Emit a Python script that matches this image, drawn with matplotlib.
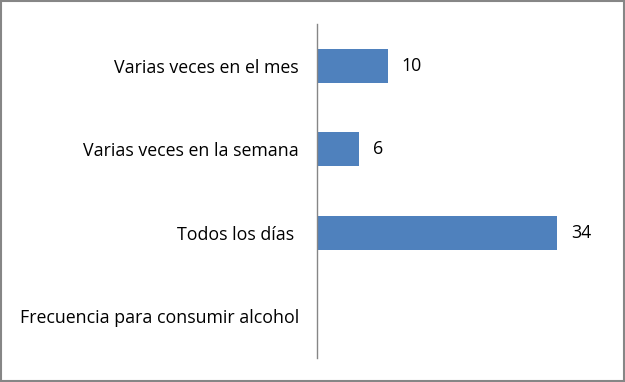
import matplotlib.pyplot as plt
from matplotlib.patches import Rectangle

categories = ["Frecuencia para consumir alcohol", "Todos los días ",
              "Varias veces en la semana", "Varias veces en el mes"]
values = [None, 34, 6, 10]

plt.rcParams['font.family'] = ['Open Sans', 'DejaVu Sans']

fig = plt.figure(figsize=(6.25, 3.82), dpi=100)
ax = fig.add_axes([0.5072, 0.0628, 0.4515, 0.8742])

pos = list(range(len(categories)))
bar_vals = [v if v is not None else 0 for v in values]
bars = ax.barh(pos, bar_vals, height=0.41, color='#4F81BD')

for b, v in zip(bars, values):
    if v is None:
        continue
    ax.text(b.get_width() + 2.0, b.get_y() + b.get_height() / 2, str(v),
            va='center', ha='left', fontsize=12.8, color='black')

ax.set_xlim(0, 40)
ax.set_ylim(-0.5, 3.5)
ax.set_yticks(pos)
ax.set_yticklabels(categories, fontsize=12.8)
ax.set_xticks([])
ax.tick_params(axis='y', length=0, pad=13)
for s in ['top', 'right', 'bottom']:
    ax.spines[s].set_visible(False)
ax.spines['left'].set_color('#868686')
ax.spines['left'].set_linewidth(1)

fig.patches.append(Rectangle((0.002, 0.003), 0.996, 0.994, transform=fig.transFigure,
                             fill=False, edgecolor='#868686', linewidth=1.5))

fig.savefig('out.png', dpi=100)
